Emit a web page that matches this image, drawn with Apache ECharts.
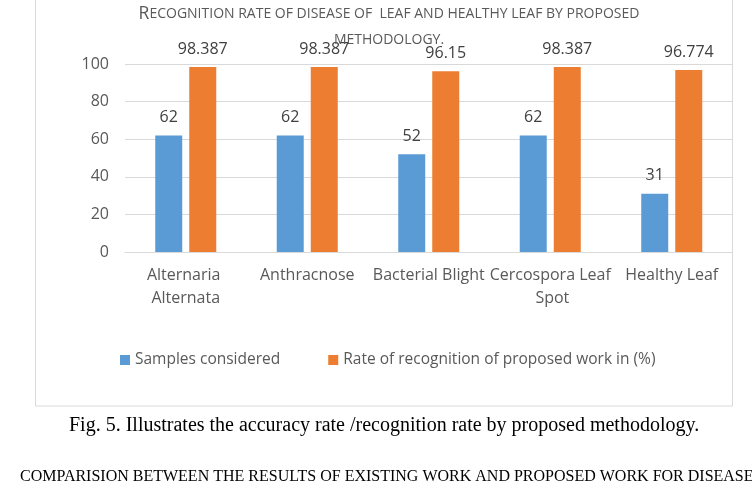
<!DOCTYPE html>
<html>
<head>
<meta charset="utf-8">
<script src="https://cdn.jsdelivr.net/npm/echarts@6/dist/echarts.min.js"></script>
<style>
  html, body { margin: 0; padding: 0; background: #fff; }
  #chart { width: 752px; height: 488px; }
</style>
</head>
<body>
<div id="chart"></div>
<script>
// data
const categorias = ['Alternaria Alternata', 'Anthracnose', 'Bacterial Blight', 'Cercospora Leaf Spot', 'Healthy Leaf'];
const muestras = [62, 62, 52, 62, 31];
const tasaReconocimiento = [98.387, 98.387, 96.15, 98.387, 96.774];
const nombresSeries = ['Samples considered', 'Rate of recognition of proposed work in (%)'];
const ticksY = [0, 20, 40, 60, 80, 100];

const gris = '#595959';
const chart = echarts.init(document.getElementById('chart'));

const etiqueta = {
  show: true,
  position: 'top',
  distance: 10,
  fontFamily: 'Open Sans',
  fontSize: 16,
  color: '#404040'
};

chart.setOption({
  animation: false,
  textStyle: { fontFamily: 'Open Sans' },
  title: {
    text: '{a|R}{b|ECOGNITION RATE OF DISEASE OF  LEAF AND HEALTHY LEAF BY PROPOSED}\n{b|METHODOLOGY.}',
    left: 384,
    textAlign: 'center',
    top: -4,
    textStyle: {
      fontWeight: 'normal',
      rich: {
        a: { fontFamily: 'Open Sans', fontSize: 17.5, color: gris, lineHeight: 26, fontWeight: 'normal' },
        b: { fontFamily: 'Open Sans', fontSize: 14, color: gris, lineHeight: 26, fontWeight: 'normal' }
      }
    }
  },
  legend: {
    left: 115,
    top: 347,
    itemWidth: 10,
    itemHeight: 10,
    itemGap: 48,
    icon: 'rect',
    textStyle: { fontFamily: 'Open Sans', fontSize: 15.5, color: gris },
    data: nombresSeries
  },
  grid: { left: 125, right: 19.5, top: 64, bottom: 236, containLabel: false },
  xAxis: {
    type: 'category',
    data: categorias,
    axisLine: { lineStyle: { color: '#d9d9d9' } },
    axisTick: { show: false },
    axisLabel: {
      fontFamily: 'Open Sans', fontSize: 16, color: gris,
      margin: 12, width: 122, overflow: 'break', lineHeight: 23, interval: 0
    }
  },
  yAxis: {
    type: 'value',
    min: 0, max: 100, interval: 20,
    axisLine: { show: false },
    axisTick: { show: false },
    splitLine: { lineStyle: { color: '#d9d9d9' } },
    axisLabel: {
      fontFamily: 'Open Sans', fontSize: 16, color: gris, margin: 16,
      formatter: v => ticksY.includes(v) ? String(v) : ''
    }
  },
  series: [
    { name: nombresSeries[0], type: 'bar', data: muestras, barWidth: 27, barGap: '26%',
      itemStyle: { color: '#5b9bd5' }, label: etiqueta },
    { name: nombresSeries[1], type: 'bar', data: tasaReconocimiento, barWidth: 27,
      itemStyle: { color: '#ed7d31' }, label: etiqueta }
  ],
  graphic: [
    { type: 'rect', silent: true, z: -1,
      shape: { x: 35.5, y: -2, width: 697, height: 408 },
      style: { fill: 'none', stroke: '#d9d9d9', lineWidth: 1 } },
    { type: 'text', left: 69, top: 416,
      style: { text: 'Fig. 5. Illustrates the accuracy rate /recognition rate by proposed methodology.',
        font: '20px "Liberation Serif"', fill: '#000' } },
    { type: 'text', left: 20, top: 469,
      style: { text: 'COMPARISION BETWEEN THE RESULTS OF EXISTING WORK AND PROPOSED WORK FOR DISEASE',
        font: '16px "Liberation Serif"', fill: '#000' } }
  ]
});
</script>
</body>
</html>
